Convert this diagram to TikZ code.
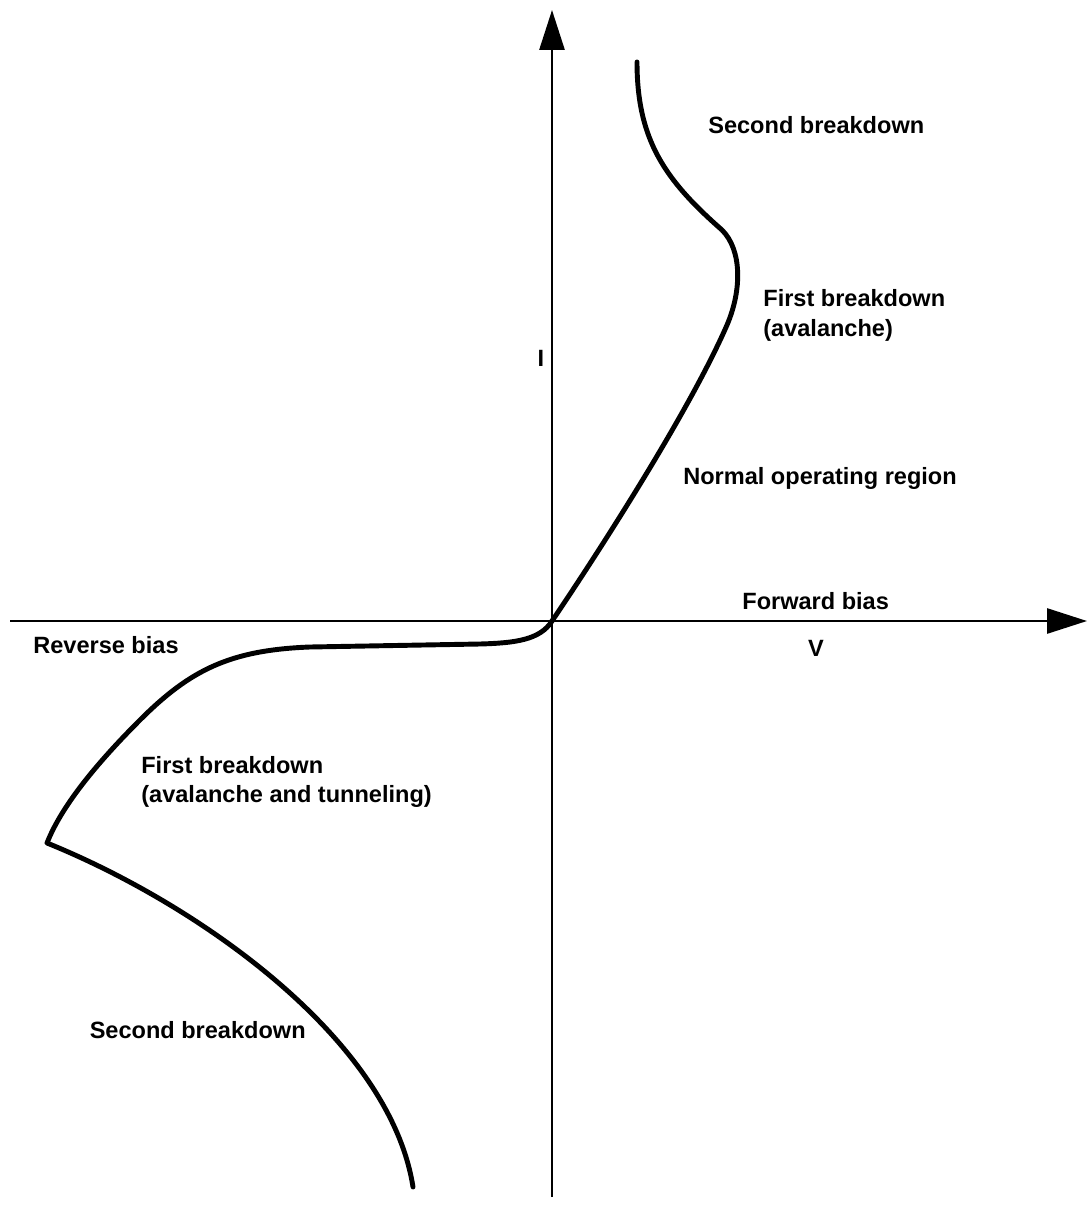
\documentclass[tikz,border=0pt]{standalone}
\usepackage{fontspec}
\setmainfont{Liberation Sans}
\usetikzlibrary{arrows.meta,positioning}
\tikzset{
	axis/.style={line width=1.6pt,-{Triangle[length=0.8cm,width=0.5cm]}},
	curve/.style={line width=2.8pt,line cap=round,line join=round},
	lbl/.style={font=\bfseries\fontsize{13.4}{17}\selectfont,inner sep=0pt,align=left},
}

\begin{document}
\begin{tikzpicture}[x=0.02cm,y=-0.02cm]
	\useasboundingbox (0,0) rectangle (1087,1209);
	\coordinate[] (origin) at (552,621);
	\coordinate[] (xstart) at (10,621);
	\coordinate[] (xend) at (1087,621);
	\coordinate[] (ystart) at (552,1197);
	\coordinate[] (yend) at (552,10);
	\coordinate[] (fbend) at (727,325);
	\coordinate[] (fknee) at (722,230);
	\coordinate[] (ftop) at (637,62);
	\coordinate[] (rflat) at (480,644);
	\coordinate[] (rbend) at (310,647);
	\coordinate[] (rmid) at (140,720);
	\coordinate[] (rcorner) at (47,843);
	\coordinate[] (rend) at (413,1187);
	
	\draw[axis](xstart)--(xend);
	\draw[axis](ystart)--(yend);
	
	% forward branch
	\draw[curve](origin) .. controls (600,550) and (690,410) .. (fbend)
		.. controls (742,290) and (742,250) .. (fknee)
		.. controls (665,180) and (637,140) .. (ftop);
	% reverse branch
	\draw[curve](origin) .. controls (540,640) and (515,643) .. (rflat)
		-- (rbend)
		.. controls (230,650) and (190,670) .. (rmid)
		.. controls (90,770) and (60,810) .. (rcorner)
		.. controls (200,905) and (390,1040) .. (rend);
	
	\node[lbl,anchor=west] (sbtop) at (708,125) {Second breakdown};
	\node[lbl,anchor=west] (fbtop) at (763,315) {First breakdown\\(avalanche)};
	\node[lbl] (ilabel) at (541,358) {I};
	\node[lbl,anchor=west] (normal) at (683,478) {Normal operating region};
	\node[lbl,anchor=west] (fwd) at (742,601) {Forward bias};
	\node[lbl] (vlabel) at (816,648) {V};
	\node[lbl,anchor=west] (rev) at (33,645) {Reverse bias};
	\node[lbl,anchor=west] (fbbot) at (141,782) {First breakdown\\(avalanche and tunneling)};
	\node[lbl,anchor=east] (sbbot) at (306,1030) {Second breakdown};
\end{tikzpicture}
\end{document}
